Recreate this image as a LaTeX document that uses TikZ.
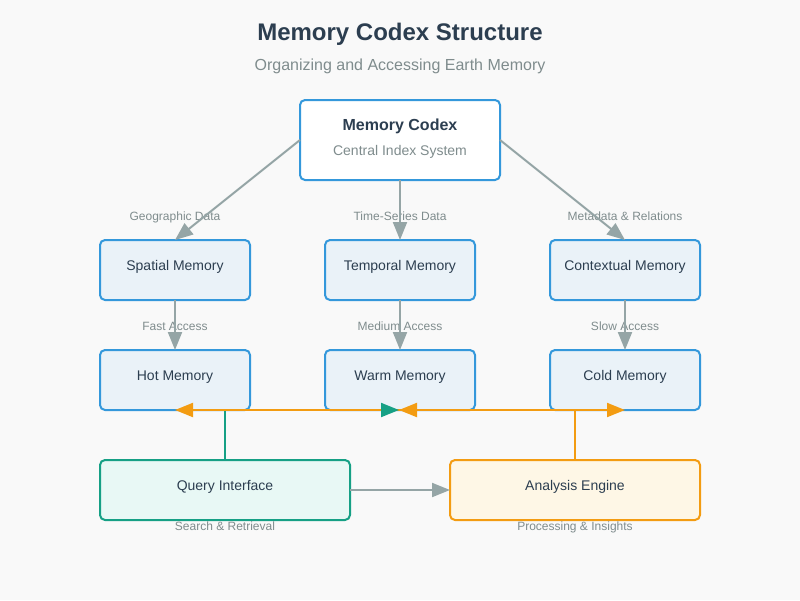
\documentclass[tikz,border=0pt]{standalone}
\usepackage{fontspec}
\setmainfont{Liberation Sans}
\usetikzlibrary{arrows.meta}
\definecolor{bgc}{HTML}{F9F9F9}
\definecolor{dark}{HTML}{2C3E50}
\definecolor{grayt}{HTML}{7F8C8D}
\definecolor{grayl}{HTML}{95A5A6}
\definecolor{blueb}{HTML}{3498DB}
\definecolor{bluef}{HTML}{EAF2F8}
\definecolor{greenb}{HTML}{16A085}
\definecolor{greenf}{HTML}{E8F8F5}
\definecolor{orangeb}{HTML}{F39C12}
\definecolor{orangef}{HTML}{FEF7E6}
\tikzset{
  box/.style={draw=blueb, fill=bluef, line width=2pt, rounded corners=5pt,
    minimum width=150pt, minimum height=60pt, inner sep=0pt, outer sep=0pt,
    text height=0pt, text depth=0pt,
    text=dark, font=\fontsize{14}{16}\selectfont},
  bigbox/.style={box, minimum width=250pt},
  lab/.style={text=grayt, font=\fontsize{12}{14}\selectfont, inner sep=0pt, anchor=base},
  garrow/.style={draw=grayl, line width=2pt, -{Triangle[length=18pt,width=14pt]}},
  oline/.style={draw=orangeb, line width=2pt},
  otip/.style={oline, -{Triangle[length=18pt,width=14pt]}},
  gline/.style={draw=greenb, line width=2pt},
  gtip/.style={gline, -{Triangle[length=18pt,width=14pt]}},
}
\begin{document}
\begin{tikzpicture}[x=1pt,y=-1pt]
\fill[bgc] (0,0) rectangle (800,600);
\useasboundingbox (0,0) rectangle (800,600);

\node[anchor=base, inner sep=0pt, text=dark, font=\bfseries\fontsize{24}{28}\selectfont] (title) at (400,40) {Memory Codex Structure};
\node[anchor=base, inner sep=0pt, text=grayt, font=\fontsize{16}{19}\selectfont] (subtitle) at (400,70) {Organizing and Accessing Earth Memory};

\node[box, fill=white, minimum width=200pt, minimum height=80pt] (codex) at (400,140) {};
\node[anchor=base, inner sep=0pt, text=dark, font=\bfseries\fontsize{16}{19}\selectfont] (codext) at (400,130) {Memory Codex};
\node[anchor=base, inner sep=0pt, text=grayt, font=\fontsize{14}{16}\selectfont] (codexs) at (400,155) {Central Index System};

\node[box] (spatial) at (175,270) {Spatial Memory};
\node[box] (temporal) at (400,270) {Temporal Memory};
\node[box] (context) at (625,270) {Contextual Memory};

\node[box] (hot) at (175,380) {Hot Memory};
\node[box] (warm) at (400,380) {Warm Memory};
\node[box] (cold) at (625,380) {Cold Memory};

\node[bigbox, draw=greenb, fill=greenf] (query) at (225,490) {Query Interface};
\node[bigbox, draw=orangeb, fill=orangef] (analysis) at (575,490) {Analysis Engine};

% labels
\node[lab] (l1) at (175,220) {Geographic Data};
\node[lab] (l2) at (400,220) {Time-Series Data};
\node[lab] (l3) at (625,220) {Metadata \& Relations};
\node[lab] (l4) at (175,330) {Fast Access};
\node[lab] (l5) at (400,330) {Medium Access};
\node[lab] (l6) at (625,330) {Slow Access};
\node[lab] (l7) at (225,530) {Search \& Retrieval};
\node[lab] (l8) at (575,530) {Processing \& Insights};

% connectors
\draw[garrow] (codex.west) -- (spatial.north);
\draw[garrow] (codex.south) -- (temporal.north);
\draw[garrow] (codex.east) -- (context.north);
\draw[garrow] (spatial.south) -- (hot.north);
\draw[garrow] (temporal.south) -- (warm.north);
\draw[garrow] (context.south) -- (cold.north);
\draw[garrow] (query.east) -- (analysis.west);

\coordinate (qj) at (225,410);
\coordinate (aj) at (575,410);
\coordinate (gs) at (381,410);
\draw[gline] (query.north) -- (qj);
\draw[otip] (analysis.north) -- (aj) -- (hot.south);
\draw[otip] (aj) -- ([xshift=-1pt]warm.south);
\draw[otip] (aj) -- (cold.south);
\draw[gtip] (gs) -- ([xshift=-1pt]warm.south);
\end{tikzpicture}
\end{document}
